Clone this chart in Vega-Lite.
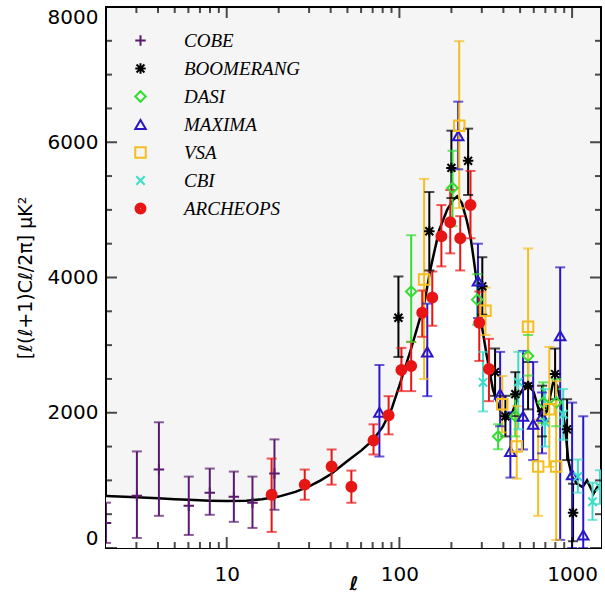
{
  "$schema": "https://vega.github.io/schema/vega-lite/v6.json",
  "width": 495,
  "height": 541,
  "autosize": {"type": "none"},
  "padding": {"left": 106, "top": 7, "right": 4, "bottom": 60},
  "background": "white",
  "config": {
    "view": {"fill": "#f5f5f5", "stroke": "black", "strokeWidth": 2},
    "legend": {
      "orient": "none", "legendX": 25, "legendY": 24, "title": null,
      "labelFont": "Liberation Serif", "labelFontStyle": "italic", "labelFontSize": 19,
      "labelOffset": 34, "rowPadding": 8, "symbolSize": 110, "symbolStrokeWidth": 2,
      "symbolOpacity": 1, "labelLimit": 300
    }
  },
  "datasets": {
    "xmaj": [{"t": 10}, {"t": 100}, {"t": 1000}],
    "xmin": [{"t": 3}, {"t": 4}, {"t": 5}, {"t": 6}, {"t": 7}, {"t": 8}, {"t": 9}, {"t": 20}, {"t": 30}, {"t": 40}, {"t": 50}, {"t": 60}, {"t": 70}, {"t": 80}, {"t": 90}, {"t": 200}, {"t": 300}, {"t": 400}, {"t": 500}, {"t": 600}, {"t": 700}, {"t": 800}, {"t": 900}],
    "ymaj": [{"t": 0}, {"t": 2000}, {"t": 4000}, {"t": 6000}, {"t": 8000}],
    "ymin": [{"t": 500}, {"t": 1000}, {"t": 1500}, {"t": 2500}, {"t": 3000}, {"t": 3500}, {"t": 4500}, {"t": 5000}, {"t": 5500}, {"t": 6500}, {"t": 7000}, {"t": 7500}],
    "theory": [
      {"l": 2, "v": 770}, {"l": 3, "v": 750}, {"l": 4, "v": 735}, {"l": 5, "v": 722}, {"l": 6, "v": 712},
      {"l": 8, "v": 700}, {"l": 10, "v": 695}, {"l": 13, "v": 700}, {"l": 16, "v": 720}, {"l": 20, "v": 760},
      {"l": 25, "v": 830}, {"l": 30, "v": 910}, {"l": 35, "v": 1000}, {"l": 40, "v": 1090}, {"l": 50, "v": 1285},
      {"l": 60, "v": 1440}, {"l": 70, "v": 1590}, {"l": 80, "v": 1790}, {"l": 90, "v": 2050}, {"l": 100, "v": 2400},
      {"l": 117, "v": 2950}, {"l": 130, "v": 3350}, {"l": 140, "v": 3650}, {"l": 152, "v": 4150}, {"l": 170, "v": 4700},
      {"l": 189, "v": 5000}, {"l": 205, "v": 5150}, {"l": 216, "v": 5200}, {"l": 230, "v": 5100}, {"l": 245, "v": 4850},
      {"l": 258, "v": 4600}, {"l": 270, "v": 4250}, {"l": 285, "v": 3800}, {"l": 295, "v": 3400}, {"l": 321, "v": 2830},
      {"l": 348, "v": 2340}, {"l": 380, "v": 2050}, {"l": 410, "v": 1900}, {"l": 450, "v": 2000}, {"l": 490, "v": 2250},
      {"l": 520, "v": 2350}, {"l": 556, "v": 2450}, {"l": 600, "v": 2300}, {"l": 640, "v": 2050}, {"l": 680, "v": 1900},
      {"l": 720, "v": 2050}, {"l": 777, "v": 2450}, {"l": 820, "v": 2400}, {"l": 870, "v": 2100}, {"l": 910, "v": 1800},
      {"l": 950, "v": 1300}, {"l": 1000, "v": 1050}, {"l": 1070, "v": 950}, {"l": 1150, "v": 900}, {"l": 1220, "v": 1000},
      {"l": 1330, "v": 800}, {"l": 1400, "v": 900}, {"l": 1470, "v": 950}
    ],
    "pts": [
      {"exp": "COBE", "l": 2.0, "v": 370, "lo": 75, "hi": 670},
      {"exp": "COBE", "l": 3.02, "v": 773, "lo": 149, "hi": 1428},
      {"exp": "COBE", "l": 4.05, "v": 1160, "lo": 476, "hi": 1859},
      {"exp": "COBE", "l": 6.03, "v": 625, "lo": 193, "hi": 1056},
      {"exp": "COBE", "l": 7.98, "v": 818, "lo": 491, "hi": 1175},
      {"exp": "COBE", "l": 11, "v": 758, "lo": 387, "hi": 1130},
      {"exp": "COBE", "l": 14.1, "v": 669, "lo": 297, "hi": 1056},
      {"exp": "COBE", "l": 18.9, "v": 1100, "lo": 565, "hi": 1606},
      {"exp": "BOOMERANG", "l": 98.7, "v": 3405, "lo": 2825, "hi": 4015},
      {"exp": "BOOMERANG", "l": 149, "v": 4684, "lo": 4104, "hi": 5264},
      {"exp": "BOOMERANG", "l": 200, "v": 5621, "lo": 5175, "hi": 6171},
      {"exp": "BOOMERANG", "l": 250, "v": 5725, "lo": 5220, "hi": 6201},
      {"exp": "BOOMERANG", "l": 302, "v": 3870, "lo": 3450, "hi": 4300},
      {"exp": "BOOMERANG", "l": 358, "v": 2602, "lo": 2250, "hi": 2950},
      {"exp": "BOOMERANG", "l": 411, "v": 1948, "lo": 1650, "hi": 2250},
      {"exp": "BOOMERANG", "l": 469, "v": 2275, "lo": 1950, "hi": 2600},
      {"exp": "BOOMERANG", "l": 556, "v": 2394, "lo": 2050, "hi": 2750},
      {"exp": "BOOMERANG", "l": 670, "v": 2022, "lo": 1650, "hi": 2400},
      {"exp": "BOOMERANG", "l": 797, "v": 2572, "lo": 2200, "hi": 2950},
      {"exp": "BOOMERANG", "l": 935, "v": 1755, "lo": 1300, "hi": 2200},
      {"exp": "BOOMERANG", "l": 1013, "v": 520, "lo": 100, "hi": 950},
      {"exp": "DASI", "l": 117, "v": 3792, "lo": 3048, "hi": 4625},
      {"exp": "DASI", "l": 203, "v": 5324, "lo": 4758, "hi": 5874},
      {"exp": "DASI", "l": 282, "v": 3673, "lo": 3300, "hi": 4050},
      {"exp": "DASI", "l": 373, "v": 1650, "lo": 1460, "hi": 1830},
      {"exp": "DASI", "l": 469, "v": 1950, "lo": 1650, "hi": 2250},
      {"exp": "DASI", "l": 556, "v": 2840, "lo": 2550, "hi": 3150},
      {"exp": "DASI", "l": 680, "v": 2150, "lo": 1850, "hi": 2450},
      {"exp": "DASI", "l": 809, "v": 2150, "lo": 1800, "hi": 2500},
      {"exp": "MAXIMA", "l": 76.6, "v": 2007, "lo": 1353, "hi": 2706},
      {"exp": "MAXIMA", "l": 145, "v": 2900, "lo": 2245, "hi": 3614},
      {"exp": "MAXIMA", "l": 219, "v": 6097, "lo": 5600, "hi": 6600},
      {"exp": "MAXIMA", "l": 285, "v": 3950, "lo": 3400, "hi": 4500},
      {"exp": "MAXIMA", "l": 383, "v": 2275, "lo": 1800, "hi": 2900},
      {"exp": "MAXIMA", "l": 439, "v": 1428, "lo": 1041, "hi": 2007},
      {"exp": "MAXIMA", "l": 520, "v": 1948, "lo": 1457, "hi": 2914},
      {"exp": "MAXIMA", "l": 595, "v": 1829, "lo": 1300, "hi": 2751},
      {"exp": "MAXIMA", "l": 670, "v": 1950, "lo": 1400, "hi": 2300},
      {"exp": "MAXIMA", "l": 853, "v": 3138, "lo": 120, "hi": 4150},
      {"exp": "MAXIMA", "l": 1000, "v": 1085, "lo": 0, "hi": 2150},
      {"exp": "MAXIMA", "l": 1160, "v": 193, "lo": 0, "hi": 1948},
      {"exp": "VSA", "l": 139, "v": 3970, "lo": 2498, "hi": 5458},
      {"exp": "VSA", "l": 222, "v": 6245, "lo": 5026, "hi": 7494},
      {"exp": "VSA", "l": 315, "v": 3510, "lo": 3150, "hi": 3850},
      {"exp": "VSA", "l": 394, "v": 2126, "lo": 1710, "hi": 2543},
      {"exp": "VSA", "l": 478, "v": 1500, "lo": 1026, "hi": 2097},
      {"exp": "VSA", "l": 556, "v": 3272, "lo": 2350, "hi": 4430},
      {"exp": "VSA", "l": 636, "v": 1205, "lo": 476, "hi": 1903},
      {"exp": "VSA", "l": 738, "v": 2052, "lo": 1200, "hi": 2974},
      {"exp": "VSA", "l": 809, "v": 1205, "lo": 120, "hi": 2468},
      {"exp": "CBI", "l": 305, "v": 2450, "lo": 2020, "hi": 2900},
      {"exp": "CBI", "l": 488, "v": 2453, "lo": 1755, "hi": 2900},
      {"exp": "CBI", "l": 697, "v": 1859, "lo": 1500, "hi": 2350},
      {"exp": "CBI", "l": 888, "v": 1978, "lo": 1600, "hi": 2350},
      {"exp": "CBI", "l": 1080, "v": 1056, "lo": 818, "hi": 1308},
      {"exp": "CBI", "l": 1313, "v": 684, "lo": 416, "hi": 967},
      {"exp": "CBI", "l": 1450, "v": 900, "lo": 650, "hi": 1150},
      {"exp": "ARCHEOPS", "l": 18.2, "v": 788, "lo": 238, "hi": 1323},
      {"exp": "ARCHEOPS", "l": 28.3, "v": 937, "lo": 714, "hi": 1160},
      {"exp": "ARCHEOPS", "l": 40.5, "v": 1205, "lo": 937, "hi": 1457},
      {"exp": "ARCHEOPS", "l": 52.7, "v": 907, "lo": 669, "hi": 1145},
      {"exp": "ARCHEOPS", "l": 70.8, "v": 1591, "lo": 1383, "hi": 1829},
      {"exp": "ARCHEOPS", "l": 86.6, "v": 1963, "lo": 1680, "hi": 2245},
      {"exp": "ARCHEOPS", "l": 102.7, "v": 2632, "lo": 2320, "hi": 2959},
      {"exp": "ARCHEOPS", "l": 117, "v": 2691, "lo": 2320, "hi": 3048},
      {"exp": "ARCHEOPS", "l": 135.6, "v": 3480, "lo": 3123, "hi": 3807},
      {"exp": "ARCHEOPS", "l": 155, "v": 3703, "lo": 3286, "hi": 4089},
      {"exp": "ARCHEOPS", "l": 175, "v": 4610, "lo": 4164, "hi": 5071},
      {"exp": "ARCHEOPS", "l": 197, "v": 4818, "lo": 4357, "hi": 5294},
      {"exp": "ARCHEOPS", "l": 225, "v": 4580, "lo": 4104, "hi": 4907},
      {"exp": "ARCHEOPS", "l": 258, "v": 5071, "lo": 4580, "hi": 5576},
      {"exp": "ARCHEOPS", "l": 290, "v": 3331, "lo": 2766, "hi": 3792},
      {"exp": "ARCHEOPS", "l": 330, "v": 2647, "lo": 2171, "hi": 3093}
    ]
  },
  "resolve": {"scale": {"color": "independent", "shape": "independent"}},
  "layer": [
    {
      "data": {"name": "theory"},
      "mark": {"type": "area", "fill": "white", "clip": true},
      "encoding": {
        "x": {"field": "l", "type": "quantitative",
          "scale": {"type": "log", "domain": [2, 1470], "nice": false},
          "axis": {
            "orient": "bottom", "grid": false, "domain": false, "ticks": false,
            "values": [10, 100, 1000],
            "format": "d",
            "labelFont": "DejaVu Sans", "labelFontSize": 20, "labelColor": "black",
            "labelPadding": 16, "labelFlush": false,
            "title": "ℓ", "titleFont": "DejaVu Sans", "titleColor": "black", "titleFontSize": 19, "titleFontStyle": "italic", "titleFontWeight": "bold", "titlePadding": -10
          }
        },
        "y": {"field": "v", "type": "quantitative",
          "scale": {"domain": [0, 8000], "nice": false},
          "axis": {
            "orient": "left", "grid": false, "domain": false, "ticks": false,
            "values": [0, 2000, 4000, 6000, 8000],
            "format": "d",
            "labelFont": "DejaVu Sans", "labelFontSize": 20, "labelColor": "black",
            "labelPadding": 8, "labelFlush": true,
            "title": "[ℓ(ℓ+1)Cℓ/2π] μK²", "titleFont": "DejaVu Sans", "titleColor": "black", "titleFontWeight": "normal", "titleFontSize": 19, "titlePadding": 12
          }
        }
      }
    },
    {
      "data": {"name": "theory"},
      "mark": {"type": "line", "color": "black", "strokeWidth": 2.5, "clip": true},
      "encoding": {
        "x": {"field": "l", "type": "quantitative", "scale": {"type": "log", "domain": [2, 1470], "nice": false}},
        "y": {"field": "v", "type": "quantitative", "scale": {"domain": [0, 8000], "nice": false}}
      }
    },
    {
      "data": {"name": "pts"},
      "mark": {"type": "rule", "strokeWidth": 2, "clip": true},
      "encoding": {
        "x": {"field": "l", "type": "quantitative", "scale": {"type": "log", "domain": [2, 1470], "nice": false}},
        "y": {"field": "lo", "type": "quantitative", "scale": {"domain": [0, 8000], "nice": false}},
        "y2": {"field": "hi"},
        "color": {"field": "exp", "type": "nominal", "legend": null,
          "scale": {"domain": ["COBE","BOOMERANG","DASI","MAXIMA","VSA","CBI","ARCHEOPS"], "range": ["#5a1a70","#000000","#33dd33","#2a16c8","#f5bd1f","#3cdcc8","#e81515"]}}
      }
    },
    {
      "data": {"name": "pts"},
      "mark": {"type": "tick", "orient": "horizontal", "size": 10, "thickness": 2, "clip": true},
      "encoding": {
        "x": {"field": "l", "type": "quantitative", "scale": {"type": "log", "domain": [2, 1470], "nice": false}},
        "y": {"field": "hi", "type": "quantitative", "scale": {"domain": [0, 8000], "nice": false}},
        "color": {"field": "exp", "type": "nominal", "legend": null,
          "scale": {"domain": ["COBE","BOOMERANG","DASI","MAXIMA","VSA","CBI","ARCHEOPS"], "range": ["#5a1a70","#000000","#33dd33","#2a16c8","#f5bd1f","#3cdcc8","#e81515"]}}
      }
    },
    {
      "data": {"name": "pts"},
      "mark": {"type": "tick", "orient": "horizontal", "size": 10, "thickness": 2, "clip": true},
      "encoding": {
        "x": {"field": "l", "type": "quantitative", "scale": {"type": "log", "domain": [2, 1470], "nice": false}},
        "y": {"field": "lo", "type": "quantitative", "scale": {"domain": [0, 8000], "nice": false}},
        "color": {"field": "exp", "type": "nominal", "legend": null,
          "scale": {"domain": ["COBE","BOOMERANG","DASI","MAXIMA","VSA","CBI","ARCHEOPS"], "range": ["#5a1a70","#000000","#33dd33","#2a16c8","#f5bd1f","#3cdcc8","#e81515"]}}
      }
    },
    {
      "data": {"name": "pts"},
      "mark": {"type": "point", "filled": false, "strokeWidth": 2, "size": 110, "opacity": 1, "clip": true},
      "encoding": {
        "x": {"field": "l", "type": "quantitative", "scale": {"type": "log", "domain": [2, 1470], "nice": false}},
        "y": {"field": "v", "type": "quantitative", "scale": {"domain": [0, 8000], "nice": false}},
        "color": {"field": "exp", "type": "nominal",
          "scale": {"domain": ["COBE","BOOMERANG","DASI","MAXIMA","VSA","CBI","ARCHEOPS"], "range": ["#5a1a70","#000000","#33dd33","#2a16c8","#f5bd1f","#3cdcc8","#e81515"]},
          "legend": {"encode": {"labels": {"update": {"fill": {"signal": "datum.value == 'COBE' ? '#5a1a70' : datum.value == 'BOOMERANG' ? '#000000' : datum.value == 'DASI' ? '#33dd33' : datum.value == 'MAXIMA' ? '#2a16c8' : datum.value == 'VSA' ? '#f5bd1f' : datum.value == 'CBI' ? '#3cdcc8' : '#e81515'"}}}}}},
        "shape": {"field": "exp", "type": "nominal",
          "legend": {"encode": {"labels": {"update": {"fill": {"signal": "datum.value == 'COBE' ? '#5a1a70' : datum.value == 'BOOMERANG' ? '#000000' : datum.value == 'DASI' ? '#33dd33' : datum.value == 'MAXIMA' ? '#2a16c8' : datum.value == 'VSA' ? '#f5bd1f' : datum.value == 'CBI' ? '#3cdcc8' : '#e81515'"}}}}},
          "scale": {"domain": ["COBE","BOOMERANG","DASI","MAXIMA","VSA","CBI","ARCHEOPS"],
            "range": ["M-1,0H1M0,-1V1", "M-1,0H1M0,-1V1M-0.75,-0.75L0.75,0.75M-0.75,0.75L0.75,-0.75", "diamond", "triangle-up", "square", "M-0.8,-0.8L0.8,0.8M-0.8,0.8L0.8,-0.8",
              "M-0.95,0A0.95,0.95 0 1,0 0.95,0A0.95,0.95 0 1,0 -0.95,0M-0.65,0A0.65,0.65 0 1,0 0.65,0A0.65,0.65 0 1,0 -0.65,0M-0.35,0A0.35,0.35 0 1,0 0.35,0A0.35,0.35 0 1,0 -0.35,0M-0.1,0A0.1,0.1 0 1,0 0.1,0A0.1,0.1 0 1,0 -0.1,0"]}}
      }
    },
    {
      "data": {"name": "xmaj"},
      "mark": {"type": "tick", "orient": "vertical", "size": 11, "thickness": 2, "color": "black", "yOffset": -5.5},
      "encoding": {
        "x": {"field": "t", "type": "quantitative", "scale": {"type": "log", "domain": [2, 1470], "nice": false}},
        "y": {"datum": 0, "type": "quantitative", "scale": {"domain": [0, 8000], "nice": false}}
      }
    },
    {
      "data": {"name": "xmin"},
      "mark": {"type": "tick", "orient": "vertical", "size": 6, "thickness": 2, "color": "black", "yOffset": -3},
      "encoding": {
        "x": {"field": "t", "type": "quantitative", "scale": {"type": "log", "domain": [2, 1470], "nice": false}},
        "y": {"datum": 0, "type": "quantitative", "scale": {"domain": [0, 8000], "nice": false}}
      }
    },
    {
      "data": {"name": "xmaj"},
      "mark": {"type": "tick", "orient": "vertical", "size": 11, "thickness": 2, "color": "black", "yOffset": 5.5},
      "encoding": {
        "x": {"field": "t", "type": "quantitative", "scale": {"type": "log", "domain": [2, 1470], "nice": false}},
        "y": {"datum": 8000, "type": "quantitative", "scale": {"domain": [0, 8000], "nice": false}}
      }
    },
    {
      "data": {"name": "xmin"},
      "mark": {"type": "tick", "orient": "vertical", "size": 6, "thickness": 2, "color": "black", "yOffset": 3},
      "encoding": {
        "x": {"field": "t", "type": "quantitative", "scale": {"type": "log", "domain": [2, 1470], "nice": false}},
        "y": {"datum": 8000, "type": "quantitative", "scale": {"domain": [0, 8000], "nice": false}}
      }
    },
    {
      "data": {"name": "ymaj"},
      "mark": {"type": "tick", "orient": "horizontal", "size": 11, "thickness": 2, "color": "black", "xOffset": 5.5},
      "encoding": {
        "x": {"datum": 2, "type": "quantitative", "scale": {"type": "log", "domain": [2, 1470], "nice": false}},
        "y": {"field": "t", "type": "quantitative", "scale": {"domain": [0, 8000], "nice": false}}
      }
    },
    {
      "data": {"name": "ymin"},
      "mark": {"type": "tick", "orient": "horizontal", "size": 6, "thickness": 2, "color": "black", "xOffset": 3},
      "encoding": {
        "x": {"datum": 2, "type": "quantitative", "scale": {"type": "log", "domain": [2, 1470], "nice": false}},
        "y": {"field": "t", "type": "quantitative", "scale": {"domain": [0, 8000], "nice": false}}
      }
    },
    {
      "data": {"name": "ymaj"},
      "mark": {"type": "tick", "orient": "horizontal", "size": 11, "thickness": 2, "color": "black", "xOffset": -5.5},
      "encoding": {
        "x": {"datum": 1470, "type": "quantitative", "scale": {"type": "log", "domain": [2, 1470], "nice": false}},
        "y": {"field": "t", "type": "quantitative", "scale": {"domain": [0, 8000], "nice": false}}
      }
    },
    {
      "data": {"name": "ymin"},
      "mark": {"type": "tick", "orient": "horizontal", "size": 6, "thickness": 2, "color": "black", "xOffset": -3},
      "encoding": {
        "x": {"datum": 1470, "type": "quantitative", "scale": {"type": "log", "domain": [2, 1470], "nice": false}},
        "y": {"field": "t", "type": "quantitative", "scale": {"domain": [0, 8000], "nice": false}}
      }
    }
  ]
}
